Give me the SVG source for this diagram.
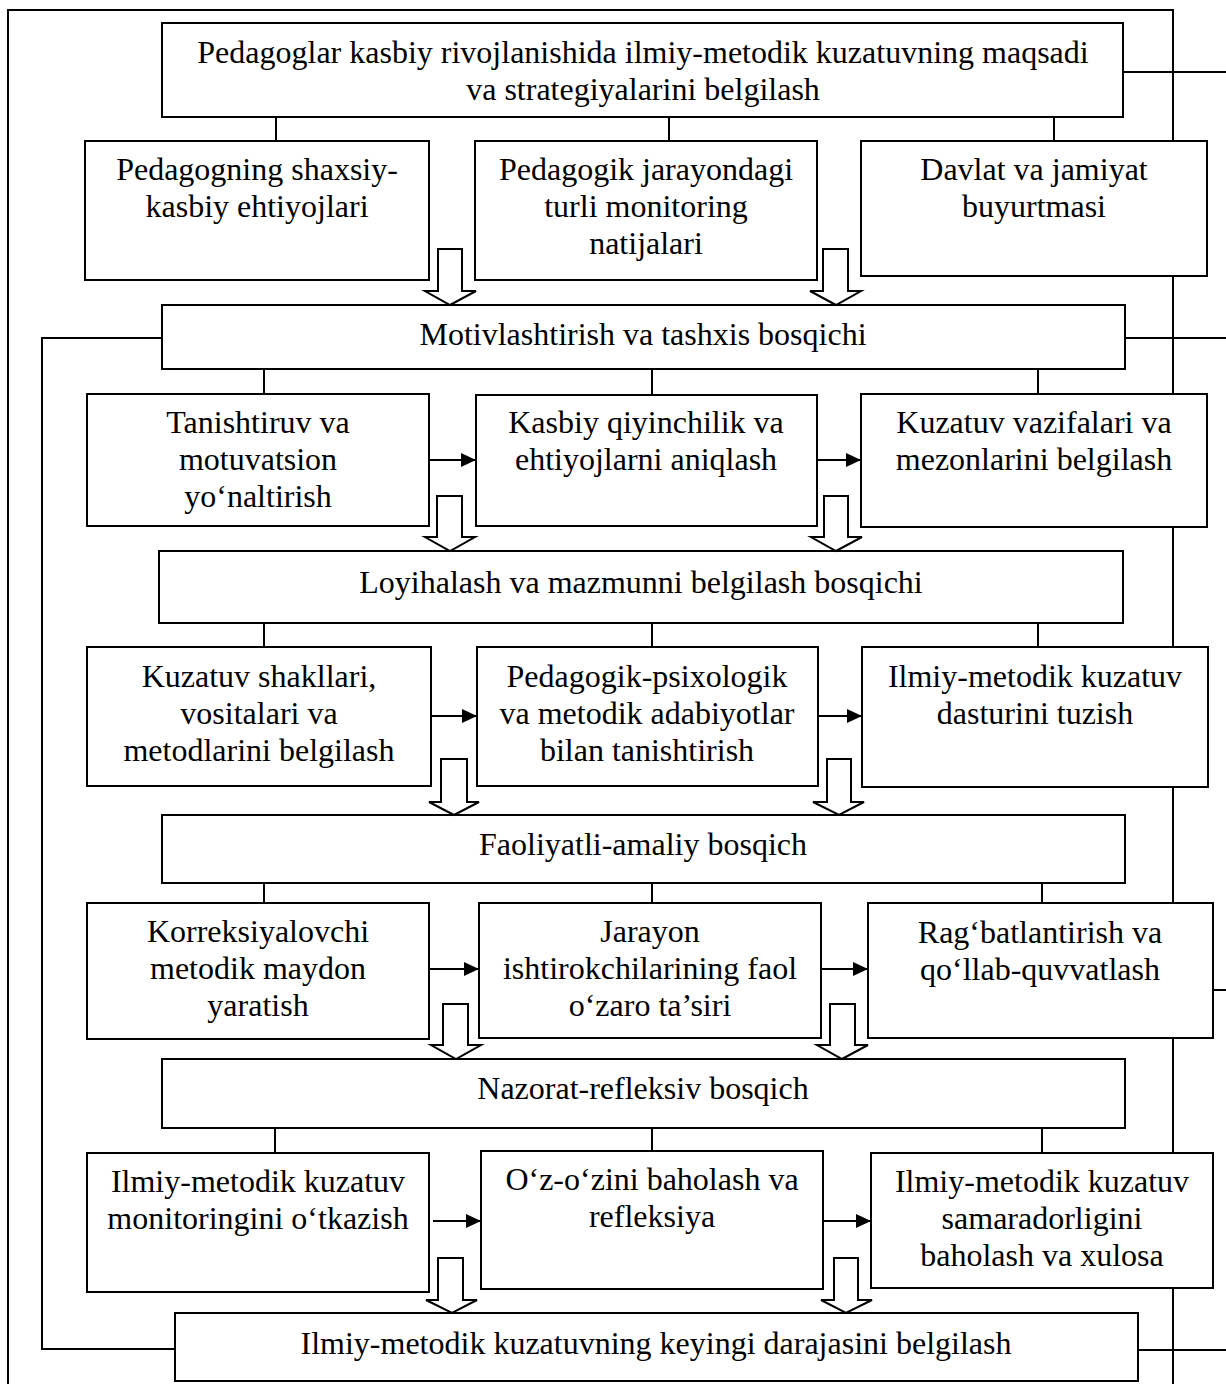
<svg xmlns="http://www.w3.org/2000/svg" width="1226" height="1384" viewBox="0 0 1226 1384">
<style>
.ln{stroke:#000;stroke-width:2;fill:none}
.ar{stroke:#000;stroke-width:2;fill:none;marker-end:url(#ah)}
.ba{fill:#fff;stroke:#000;stroke-width:2;stroke-linejoin:miter}
.box{fill:#fff;stroke:#000;stroke-width:2}
text{font-family:"Liberation Serif","Times New Roman",serif;font-size:32px;text-anchor:middle;fill:#000}
</style>
<defs>
<marker id="ah" markerUnits="userSpaceOnUse" markerWidth="15" markerHeight="14" refX="15" refY="7" orient="auto">
<path d="M0,0 L15,7 L0,14 Z" fill="#000"/>
</marker>
</defs>
<rect x="0" y="0" width="1226" height="1384" fill="#fff"/>
<g id="connectors">
<!-- frame -->
<path class="ln" d="M8,1384 L8,10 L1173,10 L1173,1384"/>
<!-- right stubs -->
<path class="ln" d="M1123,72 L1226,72 M1125,338 L1226,338 M1213,990 L1226,990 M1138,1350 L1226,1350"/>
<!-- left feedback -->
<path class="ln" d="M162,338 L42,338 L42,1349 L175,1349"/>
<!-- vertical stubs -->
<path class="ln" d="M276,117 V141 M669,117 V141 M1054,117 V141"/>
<path class="ln" d="M264,369 V394 M652,369 V395 M1038,369 V394"/>
<path class="ln" d="M264,623 V647 M652,623 V647 M1038,623 V647"/>
<path class="ln" d="M264,883 V903 M652,883 V903 M1042,883 V903"/>
<path class="ln" d="M275,1128 V1153 M652,1128 V1151 M1042,1128 V1153"/>
<!-- horizontal arrows -->
<path class="ar" d="M429,460 H476"/>
<path class="ar" d="M817,460 H861"/>
<path class="ar" d="M431,716 H477"/>
<path class="ar" d="M818,716 H862"/>
<path class="ar" d="M429,969 H479"/>
<path class="ar" d="M821,969 H868"/>
<path class="ar" d="M433,1221 H481"/>
<path class="ar" d="M823,1221 H871"/>
</g>
<g id="n-top"><rect class="box" x="162" y="23" width="961" height="94"/>
<text x="643" y="63">Pedagoglar kasbiy rivojlanishida ilmiy-metodik kuzatuvning maqsadi</text>
<text x="643" y="100">va strategiyalarini belgilash</text></g>
<g id="n-r1l"><rect class="box" x="85" y="141" width="344" height="139"/>
<text x="257" y="180">Pedagogning shaxsiy-</text><text x="257" y="217">kasbiy ehtiyojlari</text></g>
<g id="n-r1m"><rect class="box" x="475" y="141" width="342" height="139"/>
<text x="646" y="180">Pedagogik jarayondagi</text><text x="646" y="217">turli monitoring</text><text x="646" y="254">natijalari</text></g>
<g id="n-r1r"><rect class="box" x="861" y="141" width="346" height="135"/>
<text x="1034" y="180">Davlat va jamiyat</text><text x="1034" y="217">buyurtmasi</text></g>
<g id="n-s1"><rect class="box" x="162" y="305" width="963" height="64"/>
<text x="643" y="345">Motivlashtirish va tashxis bosqichi</text></g>
<g id="n-r2l"><rect class="box" x="87" y="394" width="342" height="132"/>
<text x="258" y="433">Tanishtiruv va</text><text x="258" y="470">motuvatsion</text><text x="258" y="507">yo‘naltirish</text></g>
<g id="n-r2m"><rect class="box" x="476" y="395" width="341" height="131"/>
<text x="646" y="433">Kasbiy qiyinchilik va</text><text x="646" y="470">ehtiyojlarni aniqlash</text></g>
<g id="n-r2r"><rect class="box" x="861" y="394" width="346" height="133"/>
<text x="1034" y="433">Kuzatuv vazifalari va</text><text x="1034" y="470">mezonlarini belgilash</text></g>
<g id="n-s2"><rect class="box" x="159" y="551" width="964" height="72"/>
<text x="641" y="593">Loyihalash va mazmunni belgilash bosqichi</text></g>
<g id="n-r3l"><rect class="box" x="87" y="647" width="344" height="139"/>
<text x="259" y="687">Kuzatuv shakllari,</text><text x="259" y="724">vositalari va</text><text x="259" y="761">metodlarini belgilash</text></g>
<g id="n-r3m"><rect class="box" x="477" y="647" width="341" height="139"/>
<text x="647" y="687">Pedagogik-psixologik</text><text x="647" y="724">va metodik adabiyotlar</text><text x="647" y="761">bilan tanishtirish</text></g>
<g id="n-r3r"><rect class="box" x="862" y="647" width="346" height="140"/>
<text x="1035" y="687">Ilmiy-metodik kuzatuv</text><text x="1035" y="724">dasturini tuzish</text></g>
<g id="n-s3"><rect class="box" x="162" y="815" width="963" height="68"/>
<text x="643" y="855">Faoliyatli-amaliy bosqich</text></g>
<g id="n-r4l"><rect class="box" x="87" y="903" width="342" height="136"/>
<text x="258" y="942">Korreksiyalovchi</text><text x="258" y="979">metodik maydon</text><text x="258" y="1016">yaratish</text></g>
<g id="n-r4m"><rect class="box" x="479" y="903" width="342" height="135"/>
<text x="650" y="942">Jarayon</text><text x="650" y="979">ishtirokchilarining faol</text><text x="650" y="1016">o‘zaro ta’siri</text></g>
<g id="n-r4r"><rect class="box" x="868" y="903" width="345" height="135"/>
<text x="1040" y="943">Rag‘batlantirish va</text><text x="1040" y="980">qo‘llab-quvvatlash</text></g>
<g id="n-s4"><rect class="box" x="162" y="1059" width="963" height="69"/>
<text x="643" y="1099">Nazorat-refleksiv bosqich</text></g>
<g id="n-r5l"><rect class="box" x="87" y="1153" width="342" height="139"/>
<text x="258" y="1192">Ilmiy-metodik kuzatuv</text><text x="258" y="1229">monitoringini o‘tkazish</text></g>
<g id="n-r5m"><rect class="box" x="481" y="1151" width="342" height="138"/>
<text x="652" y="1190">O‘z-o‘zini baholash va</text><text x="652" y="1227">refleksiya</text></g>
<g id="n-r5r"><rect class="box" x="871" y="1153" width="342" height="135"/>
<text x="1042" y="1192">Ilmiy-metodik kuzatuv</text><text x="1042" y="1229">samaradorligini</text><text x="1042" y="1266">baholash va xulosa</text></g>
<g id="n-bottom"><rect class="box" x="175" y="1313" width="963" height="68"/>
<text x="656" y="1354">Ilmiy-metodik kuzatuvning keyingi darajasini belgilash</text></g>
<g id="block-arrows">
<path class="ba" d="M438,249 H462 V291 H476 L450,305 L425,291 H438 Z"/>
<path class="ba" d="M823,249 H848 V291 H861 L836,305 L810,291 H823 Z"/>
<path class="ba" d="M437,496 H462 V537 H475 L450,551 L425,537 H437 Z"/>
<path class="ba" d="M824,496 H848 V537 H862 L836,551 L811,537 H824 Z"/>
<path class="ba" d="M441,759 H467 V802 H479 L454,815 L429,802 H441 Z"/>
<path class="ba" d="M827,759 H851 V802 H864 L839,815 L813,802 H827 Z"/>
<path class="ba" d="M443,1004 H468 V1045 H481 L456,1059 L431,1045 H443 Z"/>
<path class="ba" d="M830,1004 H855 V1045 H868 L842,1059 L817,1045 H830 Z"/>
<path class="ba" d="M438,1258 H463 V1300 H477 L452,1313 L426,1300 H438 Z"/>
<path class="ba" d="M834,1258 H858 V1300 H872 L846,1313 L821,1300 H834 Z"/>
</g>
</svg>
